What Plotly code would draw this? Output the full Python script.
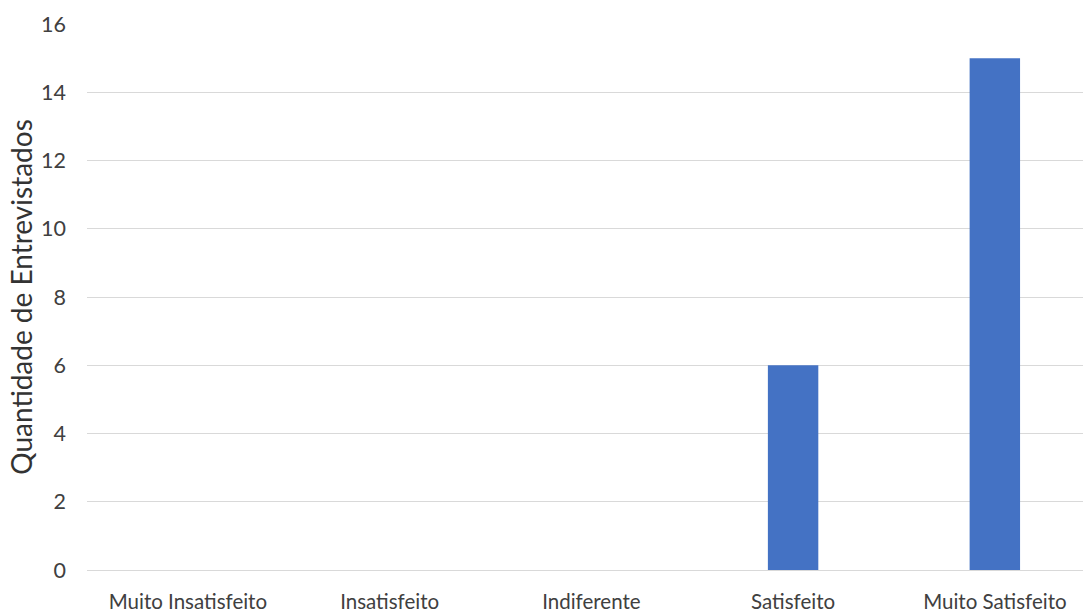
import plotly.graph_objects as go

categorias = ["Muito Insatisfeito", "Insatisfeito", "Indiferente", "Satisfeito", "Muito Satisfeito"]
entrevistados = [0, 0, 0, 6, 15]
ticks_y = [0, 2, 4, 6, 8, 10, 12, 14, 16]

fig = go.Figure(
    go.Bar(
        x=categorias,
        y=entrevistados,
        width=0.25,
        marker=dict(color="#4472C4", line=dict(width=0)),
    )
)

fig.update_layout(
    width=1083,
    height=612,
    margin=dict(l=87, r=0, t=24, b=42),
    paper_bgcolor="white",
    plot_bgcolor="white",
    showlegend=False,
    font=dict(family="Lato, 'Open Sans', sans-serif", color="#404040", size=20),
    xaxis=dict(
        range=[-0.5, 4.437],
        showgrid=False,
        showline=False,
        ticks="",
        tickfont=dict(size=20.5, color="#404040"),
        ticklabelstandoff=17,
    ),
    yaxis=dict(
        range=[0, 16],
        tickvals=ticks_y,
        showgrid=True,
        gridcolor="#D9D9D9",
        gridwidth=1,
        zeroline=True,
        zerolinecolor="#D9D9D9",
        zerolinewidth=1,
        showline=False,
        ticks="",
        tickfont=dict(size=21.5, color="#404040"),
        ticklabelstandoff=20,
        title=dict(
            text="Quantidade de Entrevistados",
            font=dict(size=28, color="#333333"),
            standoff=0,
        ),
    ),
)

fig.write_html("out.html")
